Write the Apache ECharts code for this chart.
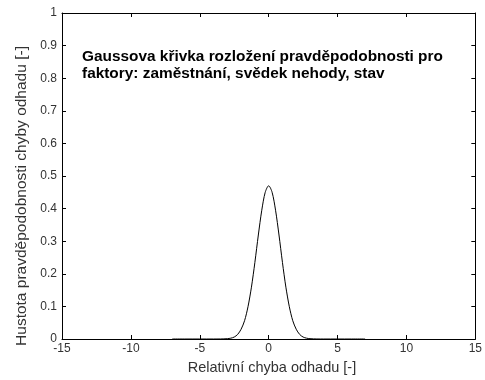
<!DOCTYPE html>
<html>
<head>
<meta charset="utf-8">
<script src="https://cdn.jsdelivr.net/npm/echarts@6/dist/echarts.min.js"></script>
<style>
  html, body { margin: 0; padding: 0; background: #fff; }
  #chart { width: 485px; height: 380px; }
</style>
</head>
<body>
<div id="chart"></div>
<script>
// Relative estimation error (x) and its probability density (y)
const errX = [-7, -6, -5, -4, -3.5, -3.25, -3, -2.75, -2.5, -2.25, -2, -1.75, -1.5, -1.25, -1, -0.75, -0.5, -0.25,
  0, 0.25, 0.5, 0.75, 1, 1.25, 1.5, 1.75, 2, 2.25, 2.5, 2.75, 3, 3.25, 3.5, 4, 5, 6, 7];
const density = [0, 0, 0, 0, 0.0001, 0.0004, 0.001, 0.0025, 0.006, 0.014, 0.03, 0.056, 0.099, 0.159, 0.235, 0.319, 0.395, 0.45,
  0.47, 0.45, 0.395, 0.319, 0.235, 0.159, 0.099, 0.056, 0.03, 0.014, 0.006, 0.0025, 0.001, 0.0004, 0.0001, 0, 0, 0, 0];

const xTicks = [-15, -10, -5, 0, 5, 10, 15];
const yTicks = [0, 0.1, 0.2, 0.3, 0.4, 0.5, 0.6, 0.7, 0.8, 0.9, 1];

const titleLines = ['Gaussova křivka rozložení pravděpodobnosti pro', 'faktory: zaměstnání, svědek nehody, stav'];
const xTitle = 'Relativní chyba odhadu [-]';
const yTitle = 'Hustota pravděpodobnosti chyby odhadu [-]';

const FONT = '"Liberation Sans", Arial, sans-serif';
const axisLine = { show: true, onZero: false, lineStyle: { color: '#000', width: 1 } };
const tick = { show: true, inside: true, length: 4, lineStyle: { color: '#000' } };

const chart = echarts.init(document.getElementById('chart'), null, { renderer: 'canvas' });
chart.setOption({
  animation: false,
  backgroundColor: '#fff',
  grid: { left: 62, right: 8, top: 13, bottom: 41, containLabel: false },
  xAxis: [
    {
      type: 'value', position: 'bottom',
      min: xTicks[0], max: xTicks[xTicks.length - 1], interval: xTicks[1] - xTicks[0],
      axisLine, axisTick: tick, splitLine: { show: false },
      axisLabel: { color: '#333', fontFamily: FONT, fontSize: 12, margin: 4 }
    },
    {
      type: 'value', position: 'top',
      min: xTicks[0], max: xTicks[xTicks.length - 1], interval: xTicks[1] - xTicks[0],
      axisLine, axisTick: tick, splitLine: { show: false }, axisLabel: { show: false }
    }
  ],
  yAxis: [
    {
      type: 'value', position: 'left',
      min: yTicks[0], max: yTicks[yTicks.length - 1], interval: 0.1,
      axisLine, axisTick: tick, splitLine: { show: false },
      axisLabel: { color: '#333', fontFamily: FONT, fontSize: 12, margin: 5 }
    },
    {
      type: 'value', position: 'right',
      min: yTicks[0], max: yTicks[yTicks.length - 1], interval: 0.1,
      axisLine, axisTick: tick, splitLine: { show: false }, axisLabel: { show: false }
    }
  ],
  series: [{
    type: 'line',
    data: errX.map((x, i) => [x, density[i]]),
    smooth: 0.3,
    symbol: 'none',
    lineStyle: { color: '#000', width: 1 },
    z: 5
  }],
  graphic: [
    {
      type: 'text', left: 82, top: 48,
      style: { text: titleLines.join('\n'), fill: '#000', font: 'bold 15.4px ' + FONT, lineHeight: 17 }
    },
    {
      type: 'text', x: 272, y: 368,
      style: { text: xTitle, fill: '#333', font: '14.5px ' + FONT, align: 'center', verticalAlign: 'middle' }
    },
    {
      type: 'text', x: 22, y: 196, rotation: Math.PI / 2,
      style: { text: yTitle, fill: '#333', font: '15.5px ' + FONT, align: 'center', verticalAlign: 'middle' }
    }
  ]
});
</script>
</body>
</html>
